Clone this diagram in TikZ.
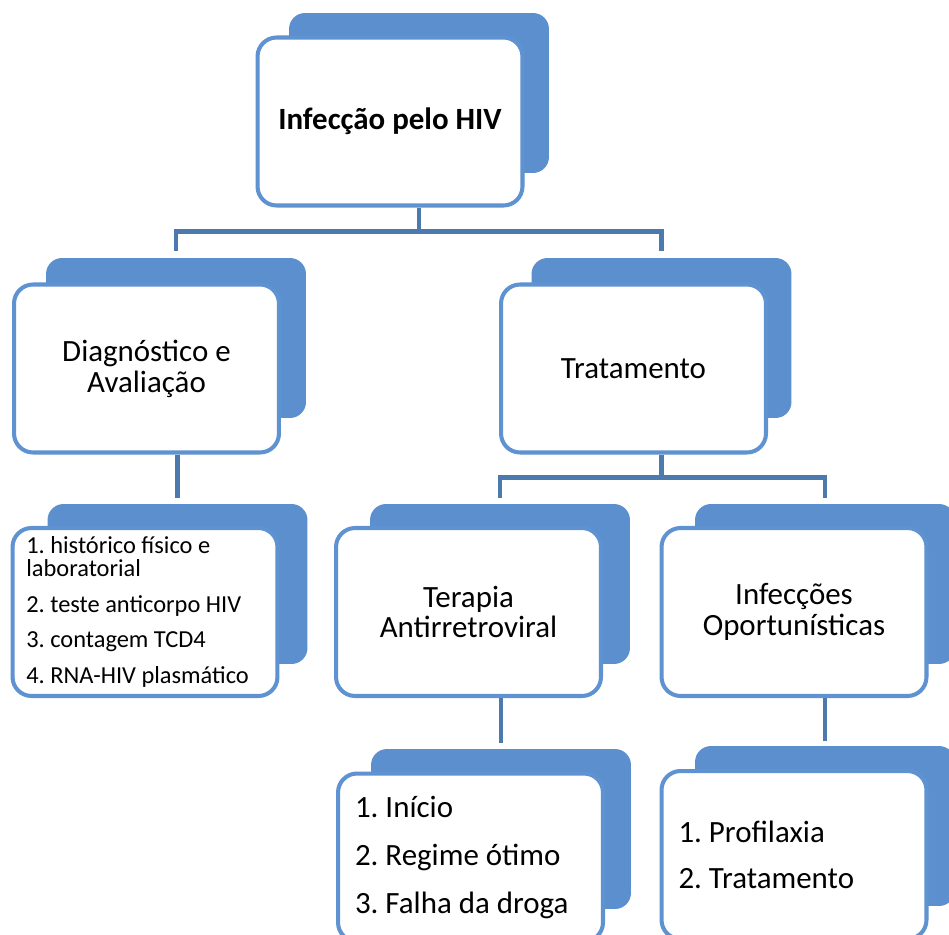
\documentclass[tikz,border=0pt]{standalone}
\usepackage{fontspec}
\setmainfont{Carlito}
\usepackage{xcolor}
\usepackage{tikz}
\usetikzlibrary{positioning}
\definecolor{cardblue}{RGB}{91,143,205}
\definecolor{edgeblue}{RGB}{94,146,208}
\definecolor{linkblue}{RGB}{76,121,174}
\frenchspacing

\begin{document}
\begin{tikzpicture}[x=0.02cm, y=-0.02cm,
  back/.style={fill=cardblue, rounded corners=0.32cm, minimum width=5.2cm, minimum height=3.2cm, inner sep=0pt},
  front/.style={draw=edgeblue, line width=2.3pt, fill=white, rounded corners=0.38cm, minimum width=5.3cm, minimum height=3.36cm, inner sep=0pt, align=center, font=\fontsize{17.6}{17.6}\selectfont},
  listfront/.style={front, align=flush left, text width=4.7cm},
  conn/.style={draw=linkblue, line width=2.3pt}]
\path[fill=white, use as bounding box] (0,0) rectangle (949,935);

\node[back] (top_back) at (419,93) {};
\node[back] (diag_back) at (176,338) {};
\node[back] (trat_back) at (661.5,338) {};
\node[back] (hist_back) at (177.5,584) {};
\node[back] (terapia_back) at (500,584) {};
\node[back] (infec_back) at (825,584) {};
\node[back] (inicio_back) at (501,829) {};
\node[back] (profil_back) at (825,826) {};

\node[front, font=\bfseries\fontsize{17.6}{17.6}\selectfont] (top) at (390,121.5) {Infecção pelo HIV};
\node[front] (diag) at (146.5,368.5) {Diagnóstico e\\Avaliação};
\node[front] (trat) at (633.5,368.5) {Tratamento};
\node[listfront, text width=4.75cm, font=\fontsize{13.9}{13}\selectfont] (hist) at (145,612)
  {1. histórico físico e\\laboratorial\\[7.4pt]2. teste anticorpo HIV\\[7.4pt]3. contagem TCD4\\[7.4pt]4. RNA-HIV plasmático};
\node[front] (terapia) at (468.5,612) {Terapia\\Antirretroviral};
\node[front] (infec) at (794,612) {Infecções\\Oportunísticas};
\node[listfront, text width=4.62cm, font=\fontsize{17.6}{27.5}\selectfont] (inicio) at (470.5,857.5)
  {1. Início\\2. Regime ótimo\\3. Falha da droga};
\node[listfront, text width=4.62cm, font=\fontsize{17.6}{26}\selectfont] (profil) at (794,855)
  {1. Profilaxia\\2. Tratamento};

\draw[conn] (top.south -| top_back.north) -- ++(0,24) coordinate (top_split);
\draw[conn] (top_split) -| ([yshift=0.14cm]diag_back.north);
\draw[conn] (top_split) -| ([yshift=0.14cm]trat_back.north);
\draw[conn] (diag.south -| hist_back.north) -- ([yshift=0.12cm]hist_back.north);
\draw[conn] (trat.south -| trat_back.north) -- ++(0,23) coordinate (trat_split);
\draw[conn] (trat_split) -| ([yshift=0.12cm]terapia_back.north);
\draw[conn] (trat_split) -| ([yshift=0.12cm]infec_back.north);
\draw[conn] (terapia.south -| inicio_back.north) -- ([yshift=0.12cm]inicio_back.north);
\draw[conn] (infec.south -| profil_back.north) -- ([yshift=0.1cm]profil_back.north);
\end{tikzpicture}
\end{document}
